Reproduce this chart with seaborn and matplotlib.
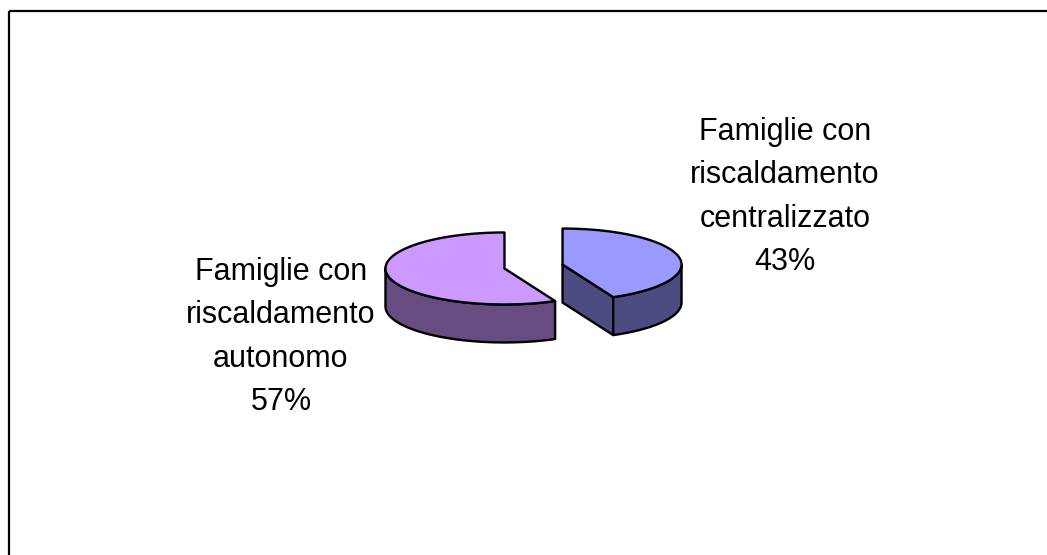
import numpy as np
import matplotlib
matplotlib.use("Agg")
import matplotlib.pyplot as plt
from matplotlib.patches import Polygon
import seaborn as sns

# ---- data ----
categories = ["Famiglie con\nriscaldamento\ncentralizzato", "Famiglie con\nriscaldamento\nautonomo"]
values = [43, 57]
top_colors = ["#9999FF", "#CC99FF"]
side_colors = ["#4C4C80", "#664C80"]

sns.set_theme(style="white")
plt.rcParams['font.family'] = ['Liberation Sans', 'DejaVu Sans']

W, H = 1047, 555
fig = plt.figure(figsize=(W / 100, H / 100), dpi=100)
ax = fig.add_axes([0, 0, 1, 1])
ax.set_xlim(0, W)
ax.set_ylim(H, 0)
ax.axis("off")

# frame (top and left edges visible)
ax.plot([8.5, W], [10.5, 10.5], color="black", lw=1.6, solid_capstyle="butt")
ax.plot([8.5, 8.5], [10.5, H], color="black", lw=1.6, solid_capstyle="butt")

# pie geometry (3D tilted)
cx, cy = 533.5, 266.5
rx, ry, depth = 119, 36, 38
explode = 0.25

total = sum(values)
start = 90.0
lw = 1.7
for val, tc, sc in zip(values, top_colors, side_colors):
    sweep = 360.0 * val / total
    a1, a2 = start - sweep, start   # CCW from a1 to a2
    start = a1
    mid = np.radians((a1 + a2) / 2)
    ox = cx + explode * rx * np.cos(mid)
    oy = cy - explode * ry * np.sin(mid)

    def pt(t, dz=0.0):
        return (ox + rx * np.cos(t), oy - ry * np.sin(t) + dz)

    # radial walls
    for ang, visible in ((a1, np.cos(np.radians(a1)) > 0), (a2, np.cos(np.radians(a2)) < 0)):
        if visible:
            t = np.radians(ang)
            e = pt(t)
            poly = [(ox, oy), e, (e[0], e[1] + depth), (ox, oy + depth)]
            ax.add_patch(Polygon(poly, closed=True, fc=sc, ec="black", lw=lw, joinstyle="round"))

    # outer wall: visible part lies in angles [180, 360]
    b1, b2 = a1, a2
    while b2 < 180:
        b1 += 360
        b2 += 360
    s = max(b1, 180)
    e_ = min(b2, 360)
    if e_ > s:
        ts = np.radians(np.linspace(s, e_, 120))
        topp = [pt(t) for t in ts]
        bot = [pt(t, depth) for t in ts[::-1]]
        ax.add_patch(Polygon(topp + bot, closed=True, fc=sc, ec="black", lw=lw, joinstyle="round"))

    # top face
    ts = np.radians(np.linspace(a1, a2, 200))
    poly = [(ox, oy)] + [pt(t) for t in ts]
    ax.add_patch(Polygon(poly, closed=True, fc=tc, ec="black", lw=lw, joinstyle="round"))

# labels
label_pos = [(785, 197), (281, 337)]
for cat, val, (lx, ly) in zip(categories, values, label_pos):
    pct = round(100 * val / total)
    ax.text(lx, ly, f"{cat}\n{pct}%", ha="center", va="center", fontsize=22,
            linespacing=1.57, color="black")

fig.savefig("out.png", dpi=100)
